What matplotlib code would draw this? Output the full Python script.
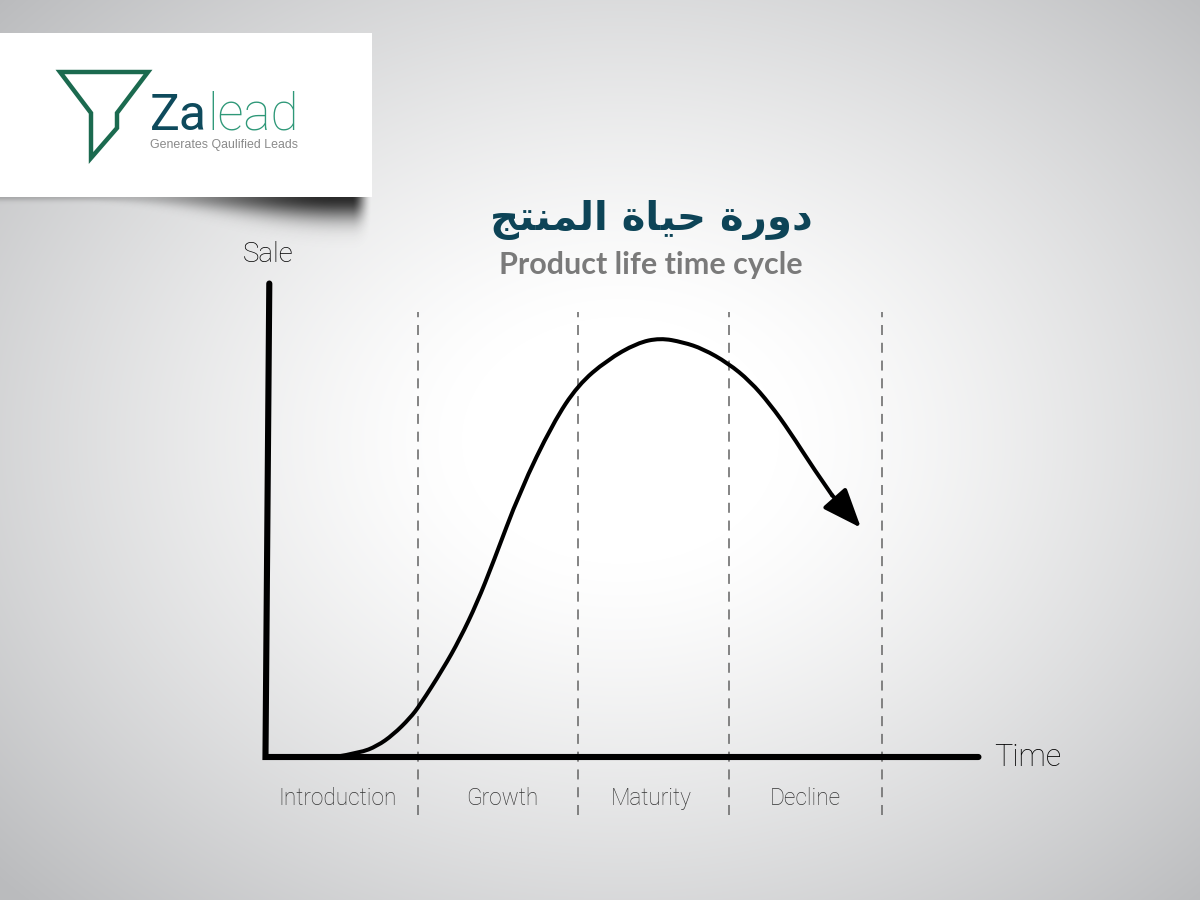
import numpy as np
import matplotlib
matplotlib.use("Agg")
import matplotlib.pyplot as plt
from matplotlib.patches import Rectangle, Polygon, PathPatch
from matplotlib.path import Path

plt.rcParams['lines.scale_dashes'] = False

# --- data: product life cycle curve (time in stage units, sale relative to peak)
curve_t = [0.444, 0.608, 0.719, 0.824, 0.935, 1.000, 1.150, 1.261, 1.373, 1.477, 1.654, 1.869,
           2.033, 2.222, 2.418, 2.569, 2.719, 2.850, 3.013, 3.157, 3.288, 3.418, 3.569, 3.693]
curve_s = [0.000, 0.010, 0.026, 0.053, 0.093, 0.124, 0.210, 0.282, 0.368, 0.463, 0.635, 0.797,
           0.888, 0.947, 0.988, 1.000, 0.990, 0.974, 0.940, 0.897, 0.842, 0.776, 0.690, 0.625]
arrow_tip = (3.882, 0.547)

stage_edges = [0.99, 2.03, 3.02, 4.02]
stage_names = ["Introduction", "Growth", "Maturity", "Decline"]
stage_centers = [0.46, 1.54, 2.51, 3.52]

x_axis_end = 4.65
y_axis_top = 1.13

title_ar = "\uFE9E\uFE98\uFEE8\uFEE4\uFEDF\uFE8D \uFE93\uFE8E\uFEF4\uFEA3 \uFE93\uFEAD\uFEED\uFEA9"
title_en = "Product life time cycle"

W, H = 1200, 900
fig = plt.figure(figsize=(12, 9), dpi=100)


def smoothstep(a, b, x):
    u = np.clip((x - a) / (b - a), 0, 1)
    return u * u * (3 - 2 * u)


# background (pixel coordinates)
bg = fig.add_axes([0, 0, 1, 1])
bg.set_xlim(0, W)
bg.set_ylim(H, 0)
bg.axis("off")
yy, xx = np.mgrid[0:H, 0:W]
r = np.sqrt(((xx - 620) / 720.0) ** 2 + ((yy - 440) / 560.0) ** 2)
g = np.clip((r - 0.22) / 0.95, 0, 1) ** 1.25
v = 1 - 0.27 * g
img = np.dstack([v, v + 0.004 * g, v + 0.012 * g])
bg.imshow(np.clip(img, 0, 1), extent=(0, W, H, 0), aspect="auto", zorder=0)

# logo shadow
sx = np.arange(0, 400) + 0.5
sy = np.arange(190, 260) + 0.5
SX, SY = np.meshgrid(sx, sy)
amp = (0.2 + 0.72 * smoothstep(120, 335, SX)) * (1 - smoothstep(352, 372, SX))
hgt = 4 + 18 * smoothstep(80, 345, SX)
dy = np.clip(SY - 197, 0, None)
alpha = amp * np.exp(-(dy / hgt) ** 2)
alpha[SY < 197] = 0
shadow = np.zeros((len(sy), len(sx), 4))
shadow[..., 0:3] = 0.1
shadow[..., 3] = np.clip(alpha, 0, 1)
bg.imshow(shadow, extent=(0, 400, 260, 190), aspect="auto", zorder=1)

bg.add_patch(Rectangle((0, 33), 372, 164, facecolor="white", edgecolor="none", zorder=2))
funnel = [(60, 72), (148, 72), (117, 113), (117, 128), (91, 158), (91, 113)]
bg.add_patch(Polygon(funnel, closed=True, fill=False, edgecolor="#1b6a4f", lw=3.2,
                     joinstyle="miter", zorder=3))
za = bg.text(150, 130, "Za", family="Roboto", fontsize=36, color="#0e4a5c",
             va="baseline", ha="left", zorder=3)
fig.canvas.draw()
bb = za.get_window_extent()
x_lead = bg.transData.inverted().transform((bb.x1, bb.y0))[0]
bg.text(x_lead, 130, "lead", family="Roboto", fontweight="light", fontsize=37,
        color="#2e9878", va="baseline", ha="left", zorder=3)
bg.text(150, 145, "Generates Qaulified Leads", family="Liberation Sans", fontsize=8.9,
        color="#8a8a8a", va="center", ha="left", zorder=3)

# titles
bg.text(651, 220, title_ar, family="DejaVu Sans", fontweight="bold", fontsize=29,
        color="#0d4457", ha="center", va="center", zorder=3)
bg.text(651, 265, title_en, family="Lato", fontweight="bold", fontsize=22,
        color="#7a7a7a", ha="center", va="center", zorder=3)

# chart axes: time unit = 153 px from origin 267, sale unit = 419 px above 757
ax = fig.add_axes([0, 0, 1, 1])
ax.patch.set_alpha(0)
ax.axis("off")
ax.set_xlim(-267 / 153.0, (W - 267) / 153.0)
ax.set_ylim(-(H - 757) / 419.0, 757 / 419.0)

for e in stage_edges:
    ax.plot([e, e], [-0.138, 1.062], color="#6f6f6f", lw=1.2, dashes=(7.2, 5.6), zorder=2)

ax.plot([0.015, -0.01, x_axis_end], [y_axis_top, 0, 0], color="black", lw=4.4,
        solid_capstyle="round", solid_joinstyle="miter", zorder=4)

# smooth curve: read points act as quadratic spline control points
pts = list(zip(curve_t, curve_s))
verts = [pts[0]]
codes = [Path.MOVETO]
for i in range(1, len(pts) - 2):
    mid = ((pts[i][0] + pts[i + 1][0]) / 2, (pts[i][1] + pts[i + 1][1]) / 2)
    verts += [pts[i], mid]
    codes += [Path.CURVE3, Path.CURVE3]
verts += [pts[-2], pts[-1]]
codes += [Path.CURVE3, Path.CURVE3]
ax.add_patch(PathPatch(Path(verts, codes), facecolor="none", edgecolor="black", lw=2.9,
                       capstyle="round", joinstyle="round", zorder=5))
ax.annotate("", xy=arrow_tip, xytext=(curve_t[-1], curve_s[-1]),
            arrowprops=dict(arrowstyle="-|>,head_length=2.4,head_width=0.95",
                            mutation_scale=10, lw=2.9, color="black",
                            shrinkA=0, shrinkB=0), zorder=5)

for c, name in zip(stage_centers, stage_names):
    ax.text(c, -0.098, name, family="Roboto", fontweight="light", fontsize=16.3,
            color="#333333", ha="center", va="center")

ax.text(0.01, 1.20, "Sale", family="Roboto", fontweight="light", fontsize=20,
        color="black", ha="center", va="center")
ax.text(x_axis_end + 0.1, 0.0, "Time", family="Roboto", fontweight="light", fontsize=22,
        color="black", ha="left", va="center")

fig.savefig("out.png", dpi=100)
